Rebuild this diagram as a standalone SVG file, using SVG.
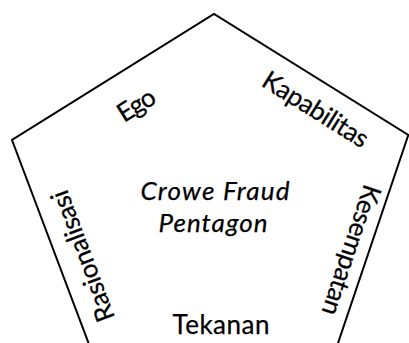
<svg xmlns="http://www.w3.org/2000/svg" width="409" height="343" viewBox="0 0 409 343">
<style>
  .edge { fill: none; stroke: #000; stroke-width: 2; stroke-linejoin: miter; }
  .lbl { font-family: Lato, "Open Sans", "Liberation Sans", sans-serif; font-size: 26px; fill: #000; stroke: #000; stroke-width: 0.25; text-anchor: middle; }
  .title { font-style: italic; }
</style>
<rect width="409" height="343" fill="#fff"/>
<g id="pentagon">
  <polyline class="edge" points="110,400 12,140 214,14 408.3,135 318.8,400"/>
</g>
<g id="connectors"/>
<g id="title">
  <text class="lbl title" x="215" y="200" textLength="149">Crowe Fraud</text>
  <text class="lbl title" x="213" y="232" textLength="109">Pentagon</text>
</g>
<g id="ego">
  <text class="lbl" transform="translate(141,112.5) rotate(-32)" textLength="40">Ego</text>
</g>
<g id="kapabilitas">
  <text class="lbl" transform="translate(311,117) rotate(32)" textLength="120">Kapabilitas</text>
</g>
<g id="kesempatan">
  <text class="lbl" transform="translate(343,247.5) rotate(108.5)" textLength="136">Kesempatan</text>
</g>
<g id="tekanan">
  <text class="lbl" x="221" y="334" textLength="97">Tekanan</text>
</g>
<g id="rasionalisasi">
  <text class="lbl" transform="translate(91,253) rotate(-110.5)" textLength="138">Rasionalisasi</text>
</g>
</svg>
